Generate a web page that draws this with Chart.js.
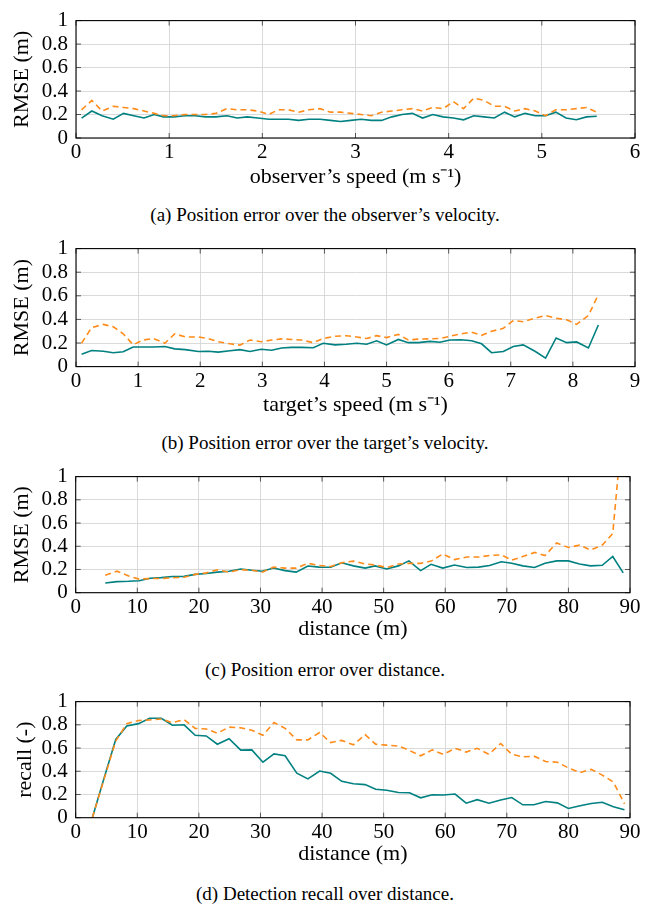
<!DOCTYPE html>
<html>
<head>
<meta charset="utf-8">
<script src="https://cdn.jsdelivr.net/npm/chart.js@4.4.1/dist/chart.umd.min.js"></script>
<style>
  body { margin: 0; background: #fff; width: 654px; height: 904px; position: relative; overflow: hidden; }
  canvas { position: absolute; left: 0; }
  .cap { position: absolute; left: 0; width: 650px; text-align: center; font: 19px "Liberation Serif", serif; line-height: 16px; color: #000; white-space: nowrap; }
</style>
</head>
<body>
<canvas id="a_chart" width="654" height="200"></canvas>
<canvas id="b_chart" width="654" height="200"></canvas>
<canvas id="c_chart" width="654" height="200"></canvas>
<canvas id="d_chart" width="654" height="200"></canvas>
<div class="cap" style="top:207px">(a) Position error over the observer’s velocity.</div>
<div class="cap" style="top:435px">(b) Position error over the target’s velocity.</div>
<div class="cap" style="top:662px">(c) Position error over distance.</div>
<div class="cap" style="top:886px">(d) Detection recall over distance.</div>
<script>
// (a) observer's speed
const obsSpeed = [0.06, 0.17, 0.28, 0.40, 0.51, 0.62, 0.73, 0.84, 0.94, 1.05, 1.17, 1.28, 1.39, 1.50, 1.62, 1.73, 1.84,
  1.95, 2.07, 2.17, 2.28, 2.39, 2.50, 2.62, 2.73, 2.84, 2.95, 3.06, 3.17, 3.28, 3.39, 3.50, 3.61, 3.72, 3.83, 3.94,
  4.05, 4.16, 4.27, 4.38, 4.49, 4.60, 4.71, 4.82, 4.93, 5.04, 5.15, 5.26, 5.37, 5.48, 5.59];
const obsSolid = [0.17, 0.23, 0.19, 0.16, 0.21, 0.19, 0.17, 0.20, 0.18, 0.18, 0.19, 0.19, 0.18, 0.18, 0.19, 0.17, 0.18,
  0.17, 0.16, 0.16, 0.16, 0.15, 0.16, 0.16, 0.15, 0.14, 0.15, 0.16, 0.15, 0.15, 0.18, 0.20, 0.21, 0.17, 0.20, 0.18,
  0.17, 0.155, 0.19, 0.18, 0.17, 0.22, 0.18, 0.21, 0.19, 0.19, 0.22, 0.17, 0.155, 0.18, 0.185];
const obsDashed = [0.24, 0.32, 0.23, 0.27, 0.26, 0.25, 0.23, 0.21, 0.19, 0.19, 0.20, 0.20, 0.20, 0.21, 0.25, 0.24, 0.24,
  0.23, 0.20, 0.24, 0.24, 0.22, 0.24, 0.25, 0.22, 0.22, 0.21, 0.20, 0.19, 0.22, 0.23, 0.24, 0.25, 0.23, 0.26, 0.25,
  0.31, 0.25, 0.34, 0.32, 0.27, 0.27, 0.23, 0.25, 0.23, 0.19, 0.24, 0.24, 0.25, 0.26, 0.22];

// (b) target's speed
const tgtSpeed = [0.09, 0.25, 0.44, 0.60, 0.76, 0.92, 1.08, 1.25, 1.43, 1.59, 1.76, 1.97, 2.13, 2.29, 2.48, 2.64, 2.80,
  2.98, 3.15, 3.31, 3.47, 3.63, 3.82, 3.98, 4.17, 4.35, 4.52, 4.68, 4.84, 5.00, 5.19, 5.35, 5.51, 5.70, 5.86, 6.02,
  6.20, 6.37, 6.53, 6.69, 6.88, 7.04, 7.20, 7.39, 7.56, 7.73, 7.90, 8.06, 8.25, 8.41];
const tgtSolid = [0.104, 0.136, 0.13, 0.118, 0.126, 0.166, 0.166, 0.166, 0.17, 0.15, 0.144, 0.128, 0.13, 0.123, 0.134,
  0.144, 0.128, 0.147, 0.139, 0.158, 0.163, 0.163, 0.16, 0.198, 0.184, 0.19, 0.198, 0.19, 0.219, 0.184, 0.23, 0.203,
  0.203, 0.214, 0.206, 0.225, 0.227, 0.219, 0.193, 0.118, 0.128, 0.171, 0.184, 0.13, 0.072, 0.243, 0.203, 0.209,
  0.158, 0.353];
const tgtDashed = [0.198, 0.33, 0.358, 0.337, 0.278, 0.185, 0.225, 0.238, 0.198, 0.278, 0.251, 0.251, 0.238, 0.211,
  0.193, 0.182, 0.225, 0.211, 0.225, 0.235, 0.23, 0.225, 0.203, 0.238, 0.257, 0.262, 0.251, 0.238, 0.262, 0.246,
  0.273, 0.225, 0.233, 0.235, 0.238, 0.257, 0.278, 0.291, 0.265, 0.299, 0.324, 0.39, 0.38, 0.41, 0.433, 0.41, 0.396,
  0.358, 0.433, 0.61];

// (c) distance, RMSE
const distC = [4.8, 6.7, 8.6, 10.3, 12.1, 13.9, 15.7, 17.6, 19.4, 21.2, 23.0, 24.9, 26.8, 28.6, 30.3, 32.1, 34.0, 35.8,
  37.7, 39.5, 41.4, 43.2, 45.1, 47.0, 48.6, 50.5, 52.4, 54.1, 56.0, 57.7, 59.6, 61.5, 63.5, 65.4, 67.2, 69.1, 70.8,
  72.6, 74.5, 76.2, 78.1, 80.0, 81.8, 83.6, 85.5, 87.2, 88.9];
const distSolid = [0.084, 0.095, 0.098, 0.103, 0.125, 0.13, 0.139, 0.141, 0.158, 0.166, 0.177, 0.185, 0.204, 0.193,
  0.185, 0.212, 0.19, 0.177, 0.23, 0.22, 0.219, 0.258, 0.231, 0.212, 0.231, 0.204, 0.231, 0.274, 0.19, 0.245, 0.212,
  0.239, 0.217, 0.22, 0.234, 0.266, 0.253, 0.231, 0.217, 0.253, 0.274, 0.274, 0.247, 0.231, 0.236, 0.312, 0.171];
const distDashed = [0.15, 0.185, 0.144, 0.117, 0.122, 0.122, 0.128, 0.133, 0.158, 0.171, 0.198, 0.177, 0.198, 0.193,
  0.177, 0.22, 0.212, 0.212, 0.253, 0.234, 0.226, 0.258, 0.272, 0.247, 0.239, 0.217, 0.247, 0.253, 0.253, 0.272,
  0.334, 0.285, 0.307, 0.307, 0.32, 0.326, 0.28, 0.312, 0.347, 0.32, 0.429, 0.389, 0.41, 0.367, 0.41, 0.51, 1.5];

// (d) distance, recall
const distD = [2.7, 4.6, 6.5, 8.3, 10.2, 12.0, 13.9, 15.7, 17.6, 19.4, 21.2, 23.0, 24.9, 26.8, 28.6, 30.4, 32.2, 34.0,
  35.9, 37.7, 39.6, 41.4, 43.2, 45.1, 47.0, 48.7, 50.5, 52.4, 54.2, 56.0, 57.9, 59.7, 61.6, 63.4, 65.2, 67.1, 69.0,
  70.8, 72.6, 74.4, 76.3, 78.2, 80.0, 81.9, 83.7, 85.5, 87.3, 89.1];
const recallSolid = [0, 0.34, 0.674, 0.79, 0.81, 0.856, 0.856, 0.796, 0.80, 0.71, 0.704, 0.633, 0.68, 0.582, 0.584,
  0.478, 0.549, 0.533, 0.383, 0.334, 0.402, 0.383, 0.313, 0.293, 0.285, 0.245, 0.236, 0.217, 0.215, 0.171, 0.198,
  0.196, 0.204, 0.125, 0.155, 0.125, 0.152, 0.174, 0.111, 0.111, 0.139, 0.128, 0.079, 0.103, 0.122, 0.133, 0.095,
  0.068];
const recallDashed = [0, 0.33, 0.66, 0.81, 0.837, 0.842, 0.85, 0.818, 0.845, 0.769, 0.764, 0.728, 0.78, 0.774, 0.753,
  0.71, 0.82, 0.77, 0.67, 0.67, 0.734, 0.647, 0.666, 0.628, 0.715, 0.633, 0.625, 0.617, 0.579, 0.533, 0.584, 0.546,
  0.598, 0.565, 0.598, 0.546, 0.639, 0.546, 0.524, 0.53, 0.484, 0.478, 0.429, 0.389, 0.416, 0.367, 0.307, 0.12];

const teal = "#008080", orange = "#ff8c1a";
const serif = "'Liberation Serif', 'Times New Roman', serif";
const tickSize = 21, titleSize = 22;

// box round the plot, with short inward ticks on all four sides
const framePlugin = {
  id: "frame",
  afterDatasetsDraw(chart) {
    const { ctx, chartArea: { left, right, top, bottom }, scales: { x, y } } = chart;
    ctx.save();
    ctx.strokeStyle = "#555";
    ctx.lineWidth = 1;
    ctx.beginPath();
    x.ticks.forEach((t) => {
      const p = x.getPixelForValue(t.value);
      ctx.moveTo(p, bottom); ctx.lineTo(p, bottom - 5);
      ctx.moveTo(p, top); ctx.lineTo(p, top + 5);
    });
    y.ticks.forEach((t) => {
      const p = y.getPixelForValue(t.value);
      ctx.moveTo(left, p); ctx.lineTo(left + 5, p);
      ctx.moveTo(right, p); ctx.lineTo(right - 5, p);
    });
    ctx.stroke();
    ctx.strokeStyle = "#000";
    ctx.lineWidth = 1.1;
    ctx.strokeRect(left, top, right - left, bottom - top);
    ctx.restore();
  },
};

const toPoints = (xs, ys) => xs.map((x, i) => ({ x: x, y: ys[i] }));

const displayChart = (title, g, xs, solid, dashed, xMax, xTitle, yTitle) => {
  let canvas = document.querySelector(`#${title}_chart`);
  const H = 200, padTop = 14, titleOffset = (titleSize * 1.2) / 2 + 4, axisH = g.gap + titleOffset;
  canvas.style.top = `${g.top - padTop}px`;
  const config = {
    type: "line",
    data: {
      datasets: [
        {
          data: toPoints(xs, dashed),
          borderColor: orange,
          borderWidth: 1.6,
          borderDash: [6, 4],
          pointRadius: 0,
          tension: 0,
        },
        {
          data: toPoints(xs, solid),
          borderColor: teal,
          borderWidth: 1.6,
          pointRadius: 0,
          tension: 0,
        },
      ],
    },
    options: {
      responsive: false,
      animation: false,
      events: [],
      layout: {
        padding: { top: padTop, left: 0, right: 654 - g.right, bottom: H - padTop - (g.bottom - g.top) - axisH },
      },
      plugins: { legend: { display: false }, tooltip: { enabled: false } },
      scales: {
        x: {
          type: "linear",
          min: 0,
          max: xMax,
          afterFit: (s) => { s.height = axisH; },
          border: { display: false },
          grid: { color: "#d6d6d6", lineWidth: 0.9, drawTicks: false },
          ticks: { stepSize: xMax > 10 ? 10 : 1, autoSkip: false, maxRotation: 0, padding: 2, color: "#000", font: { family: serif, size: tickSize } },
          title: { display: true, text: xTitle, color: "#000", padding: { top: 0, bottom: 4 }, font: { family: serif, size: titleSize } },
        },
        y: {
          min: 0,
          max: 1,
          afterFit: (s) => { s.width = g.left; },
          border: { display: false },
          grid: { color: "#d6d6d6", lineWidth: 0.9, drawTicks: false },
          ticks: {
            stepSize: 0.2,
            autoSkip: false,
            padding: 8,
            color: "#000",
            font: { family: serif, size: tickSize },
            callback: (value) => String(Number(value.toFixed(1))),
          },
          title: { display: true, text: yTitle, color: "#000", padding: { top: g.yMid - titleOffset + 4, bottom: 0 }, font: { family: serif, size: titleSize } },
        },
      },
    },
    plugins: [framePlugin],
  };
  return new Chart(canvas, config);
};

displayChart("a", { top: 14, bottom: 138, left: 76, right: 635, gap: 39, yMid: 22 },
  obsSpeed, obsSolid, obsDashed, 6, "observer’s speed (m s⁻¹)", "RMSE (m)");
displayChart("b", { top: 241.7, bottom: 366.3, left: 76, right: 635, gap: 39, yMid: 22 },
  tgtSpeed, tgtSolid, tgtDashed, 9, "target’s speed (m s⁻¹)", "RMSE (m)");
displayChart("c", { top: 470, bottom: 592.7, left: 75.7, right: 630, gap: 36.5, yMid: 22 },
  distC, distSolid, distDashed, 90, "distance (m)", "RMSE (m)");
displayChart("d", { top: 695, bottom: 817.7, left: 75.7, right: 630, gap: 36.5, yMid: 25 },
  distD, recallSolid, recallDashed, 90, "distance (m)", "recall (-)");
</script>
</body>
</html>
